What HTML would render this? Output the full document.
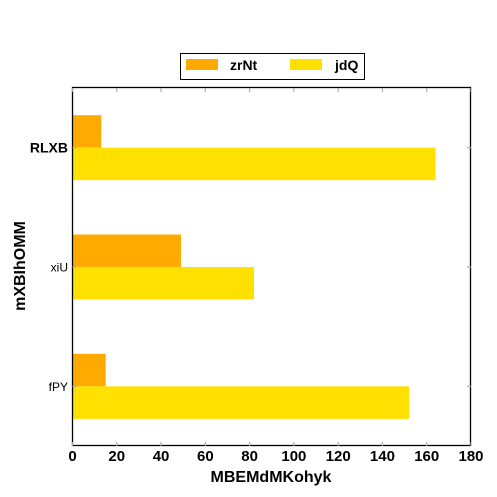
<!DOCTYPE html>
<html><head><meta charset="utf-8"><style>body{margin:0;background:#fff}svg{display:block;font-family:"Liberation Sans",sans-serif}</style></head>
<body>
<svg id="chart" width="497" height="497" viewBox="0 0 497 497"></svg>
<script>
const categories = ["RLXB","xiU","fPY"];
const seriesNames = ["zrNt","jdQ"];
const zrNt = [13,49,15];
const jdQ = [164,82,152];
const xTicks = [0,20,40,60,80,100,120,140,160,180];
const NS="http://www.w3.org/2000/svg";
const svg=document.getElementById('chart');
const L=72.5,R=471,T=88,B=446,XMAX=180;
const x=v=>L+(R-L)*v/XMAX;
const band=(B-T)/categories.length;
const yc=i=>T+band*(i+0.5);
const bh=32.5;
function mk(tag,attrs,parent){const e=document.createElementNS(NS,tag);for(const k in attrs)e.setAttribute(k,attrs[k]);(parent||svg).appendChild(e);return e;}
const colors=["#ffaa00","#ffe000"];
[zrNt,jdQ].forEach((s,si)=>{s.forEach((v,i)=>{
  const r=mk('rect',{x:x(0),y:si===0?yc(i)-bh:yc(i),width:x(v)-x(0),height:bh,fill:colors[si]});
  
  
});});
const frame=mk('rect',{x:72.5,y:87.5,width:398,height:358,fill:'none',stroke:'#000','stroke-width':1.3});


xTicks.forEach(t=>{
  mk('line',{x1:x(t),x2:x(t),y1:B,y2:B-4,stroke:'#aaa','stroke-width':1.2});
  mk('line',{x1:x(t),x2:x(t),y1:T,y2:T+4,stroke:'#aaa','stroke-width':1.2});
  const tx=mk('text',{x:x(t),y:461,'text-anchor':'middle','font-size':15,'font-weight':'bold'});
  tx.textContent=t;
  
  
});
categories.forEach((c,i)=>{
  mk('line',{x1:L,x2:L+4,y1:yc(i),y2:yc(i),stroke:'#aaa','stroke-width':1.2});
  mk('line',{x1:R,x2:R-4,y1:yc(i),y2:yc(i),stroke:'#aaa','stroke-width':1.2});
  const bold=i===0;
  const tx=mk('text',{x:68,y:yc(i)+(bold?5:4.5),'text-anchor':'end','font-size':bold?14:12,'font-weight':bold?'bold':'normal'});
  tx.textContent=c;
  
  
});
const xt=mk('text',{x:271,y:482,'text-anchor':'middle','font-size':16,'font-weight':'bold'});
xt.textContent="MBEMdMKohyk";


const yt=mk('text',{x:0,y:0,'text-anchor':'middle','font-size':16,'font-weight':'bold',transform:'translate(25,266) rotate(-90)'});
yt.textContent="mXBIhOMM";


const lg=mk('g',{});


mk('rect',{x:180.5,y:53.5,width:184,height:26,fill:'#fff',stroke:'#000','stroke-width':1},lg);
[[186,"zrNt",230],[290,"jdQ",335]].forEach((d,i)=>{
  mk('rect',{x:d[0],y:59,width:32,height:11,fill:colors[i]},lg);
  const t=mk('text',{x:d[2],y:70,'font-size':14,'font-weight':'bold'},lg);
  t.textContent=d[1];
  
  
});
</script>
</body></html>
